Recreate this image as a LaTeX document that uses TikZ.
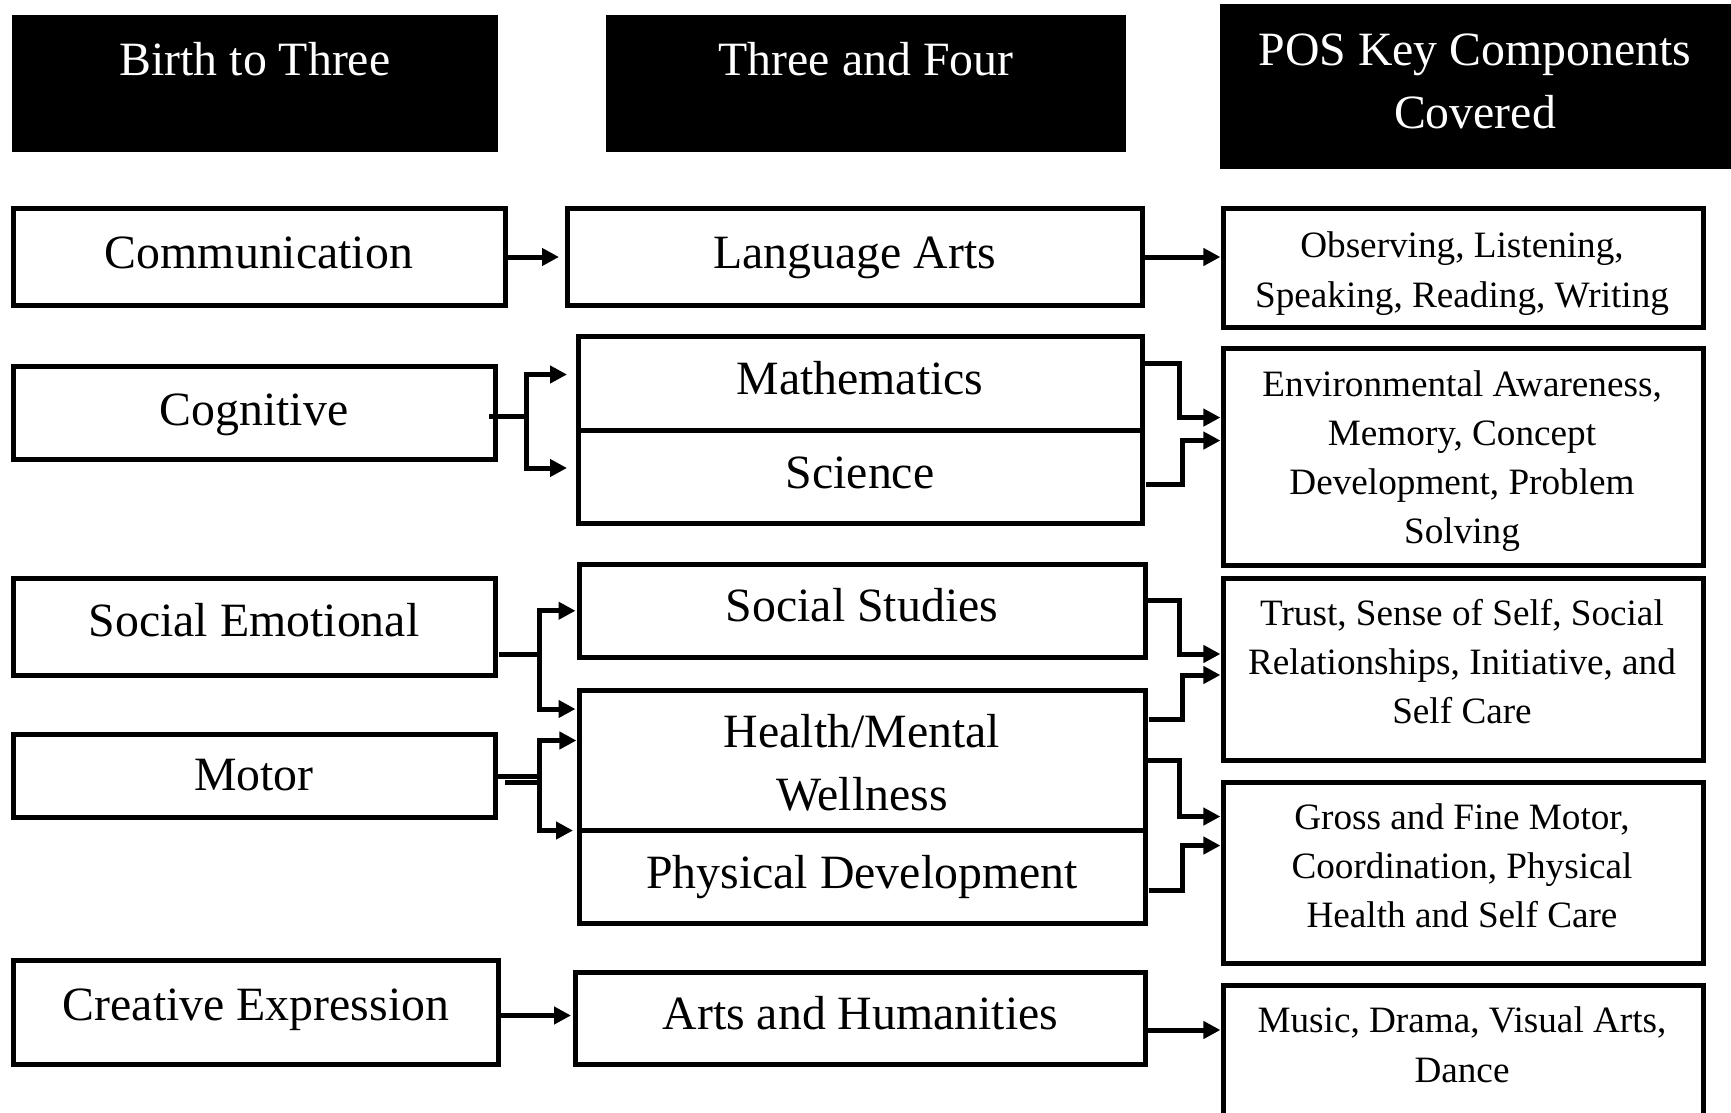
\documentclass[tikz,border=0pt]{standalone}
\usepackage{fontspec}
\setmainfont{Liberation Serif}
\usetikzlibrary{arrows.meta,calc,fit}
\tikzset{
  hdr/.style={fill=black, draw=none, inner sep=0pt, outer sep=0pt},
  bx/.style={draw=black, line width=2.5pt, fill=white, inner sep=0pt, outer sep=0pt},
  big/.style={font=\fontsize{23.9}{30}\selectfont, anchor=base, inner sep=0pt},
  small/.style={font=\fontsize{18.6}{24}\selectfont, anchor=base, inner sep=0pt},
  ln/.style={line width=2.5pt, line join=miter},
  conn/.style={line width=2.5pt, line join=miter, -{Triangle[length=8.5pt,width=8.5pt]}, shorten >=1.3pt},
}
\begin{document}
\begin{tikzpicture}[x=0.5pt,y=-0.5pt]
\useasboundingbox (0,0) rectangle (1731,1113);
\clip (0,0) rectangle (1731,1113);
\fill[white] (0,0) rectangle (1731,1113);

% headers
\node[hdr, fit={(12,15) (498,152)}] (h1) {};
\node[hdr, fit={(606,15) (1126,152)}] (h2) {};
\node[hdr, fit={(1220,4) (1745,169)}] (h3) {};
\node[big, white] at (255,75.4) {Birth to Three};
\node[big, white] at (866,75.4) {Three and Four};
\node[big, white] at (1475,65.5) {POS Key Components};
\node[big, white] at (1475,128.4) {Covered};

% column 1
\node[bx, fit={(13,209) (505,305)}] (comm) {};
\node[bx, fit={(13,366.5) (495,459.5)}] (cog) {};
\node[bx, fit={(13,578.5) (495,675)}] (se) {};
\node[bx, fit={(13,734.5) (495,817.5)}] (motor) {};
\node[bx, fit={(13,960) (498.5,1064)}] (creat) {};
\node[big] at (259,268.6) {Communication};
\node[big] at (254,425.4) {Cognitive};
\node[big] at (254,636.2) {Social Emotional};
\node[big] at (254,790.8) {Motor};
\node[big] at (256,1020.4) {Creative Expression};

% column 2
\node[bx, fit={(567,209) (1142,305)}] (la) {};
\node[bx, fit={(578.5,336) (1142,430)}] (math) {};
\node[bx, fit={(578.5,430) (1142,523)}] (sci) {};
\node[bx, fit={(579,564) (1145.5,657.5)}] (ss) {};
\node[bx, fit={(579,690.5) (1145.5,830.5)}] (health) {};
\node[bx, fit={(579,830.5) (1145.5,923)}] (phys) {};
\node[bx, fit={(575,972) (1145.5,1064)}] (arts) {};
\node[big] at (854.5,268.6) {Language Arts};
\node[big] at (860,394.5) {Mathematics};
\node[big] at (860,488.3) {Science};
\node[big] at (862,621.9) {Social Studies};
\node[big] at (862,747.7) {Health/Mental};
\node[big] at (862,810.7) {Wellness};
\node[big] at (862,888) {Physical Development};
\node[big] at (860.5,1029.3) {Arts and Humanities};

% column 3
\node[bx, fit={(1223,209) (1703,327)}] (obs) {};
\node[bx, fit={(1223,348.5) (1703,565)}] (env) {};
\node[bx, fit={(1223,578.5) (1703,760.5)}] (trust) {};
\node[bx, fit={(1223,782.5) (1703,963)}] (gross) {};
\node[bx, fit={(1223,985) (1703,1140)}] (music) {};
\node[small] at (1462,257.3) {Observing, Listening,};
\node[small] at (1462,307) {Speaking, Reading, Writing};
\node[small] at (1462,396.4) {Environmental Awareness,};
\node[small] at (1462,445) {Memory, Concept};
\node[small] at (1462,494.7) {Development, Problem};
\node[small] at (1462,543.3) {Solving};
\node[small] at (1462,625) {Trust, Sense of Self, Social};
\node[small] at (1462,674.6) {Relationships, Initiative, and};
\node[small] at (1462,723.2) {Self Care};
\node[small] at (1462,829.2) {Gross and Fine Motor,};
\node[small] at (1462,878.9) {Coordination, Physical};
\node[small] at (1462,927.5) {Health and Self Care};
\node[small] at (1462,1032.3) {Music, Drama, Visual Arts,};
\node[small] at (1462,1082) {Dance};

% connectors, left side
\draw[conn, shorten >=4pt] (comm.east) -- (la.west);
\draw[ln] ([xshift=-3pt,yshift=-1.75pt]cog.east) -- ++(40,0) coordinate (cj);
\draw[conn, shorten >=5.75pt] ([xshift=-1.25pt]cj) |- ([yshift=4.25pt]math.west);
\draw[conn, shorten >=5.75pt] ([xshift=-1.25pt]cj) |- ([yshift=4.25pt]sci.west);
\draw[ln] ([xshift=2pt,yshift=-13.9pt]se.east) -- ++(43,0) coordinate (sj);
\draw[conn, shorten >=1.75pt] ([xshift=-1.25pt]sj) |- (ss.west);
\draw[conn, shorten >=1.75pt] ([xshift=-1.25pt]sj) |- ([yshift=25.75pt]health.west);
\draw[ln] (motor.east) -- ++(47,0) coordinate (mj);
\draw[ln] ([xshift=5pt,yshift=-3pt]motor.east) -- ++(37,0);
\draw[conn, shorten >=1.3pt] ([xshift=-1.25pt]mj) |- ([yshift=10pt]health.west);
\draw[conn, shorten >=3pt] ([xshift=-1.25pt]mj) |- (phys.north west);
\draw[conn, shorten >=2pt] ([yshift=-1.75pt]creat.east) -- ([yshift=-1.75pt]creat.east -| arts.west);

% connectors, right side
\draw[conn] (la.east) -- (la.east -| obs.west);
\draw[conn] ([yshift=9.75pt]math.east) -- ++(37.5,0) |- ([yshift=19.6pt]env.west);
\draw[conn] ([xshift=2pt,yshift=-4pt]sci.east) -- ++(36.5,0) |- ([yshift=8.1pt]env.west);
\draw[conn] ([yshift=5.25pt]ss.east) -- ++(34,0) |- ([yshift=7.75pt]trust.west);
\draw[conn] ([xshift=1.5pt,yshift=20.5pt]health.east) -- ++(34,0) |- ([yshift=-2.75pt]trust.west);
\draw[conn] (health.east) -- ++(34,0) |- ([yshift=28.1pt]gross.west);
\draw[conn] ([xshift=1.5pt,yshift=-6.9pt]phys.east) -- ++(34,0) |- ([yshift=13.6pt]gross.west);
\draw[conn] ([yshift=-6pt]arts.east) -- ([yshift=-6pt]arts.east -| music.west);
\end{tikzpicture}
\end{document}
